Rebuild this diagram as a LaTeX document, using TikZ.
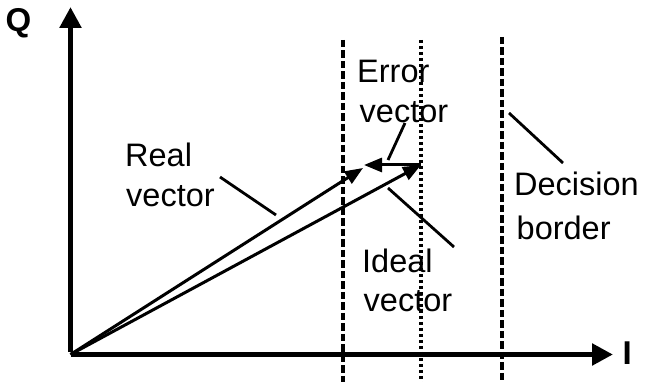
\documentclass[tikz,border=0pt]{standalone}
\usepackage{fontspec}
\setmainfont{Liberation Sans}
\usetikzlibrary{arrows.meta}
\tikzset{
  lbl/.style={anchor=base west, inner sep=0pt, font=\fontsize{32.5}{40}\selectfont},
  axlbl/.style={anchor=base west, inner sep=0pt, font=\fontsize{33}{40}\selectfont\bfseries},
  axisline/.style={line width=5.5pt, -{Triangle[length=21pt,width=21pt]}},
  vec/.style={line width=3pt, -{Triangle[length=18pt,width=14pt]}},
  leader/.style={line width=2.8pt},
  border/.style={line width=3.4pt, dash pattern=on 7.5pt off 3pt},
  ideal/.style={line width=3.4pt, dash pattern=on 3pt off 3pt}
}
\begin{document}
\begin{tikzpicture}[x=1pt,y=-1pt]
\useasboundingbox (0,0) rectangle (646,382);
% coordinates
\coordinate (O) at (70.5,354.5);
\coordinate (Itip) at (613,354.5);
\coordinate (Qtip) at (70.5,7);
\coordinate (realtip) at (363,168);
\coordinate (idealtip) at (421,165);
\coordinate (errtip) at (364,165);
% decision borders and ideal line
\coordinate (b1t) at (343,40); \coordinate (b1b) at (343,382);
\coordinate (b2t) at (421,40); \coordinate (b2b) at (421,382);
\coordinate (b3t) at (502,37); \coordinate (b3b) at (502,382);
\draw[border] (b1t) -- (b1b);
\draw[ideal] (b2t) -- (b2b);
\draw[border] (b3t) -- (b3b);
% axes
\draw[axisline] (O) -- (Itip);
\draw[axisline] ([yshift=2.75pt]O) -- (Qtip);
% vectors
\draw[vec] (O) -- (realtip);
\draw[vec] (O) -- (idealtip);
\draw[vec] (idealtip) -- (errtip);
% labels
\node[axlbl] (Q) at (5.5,31.5) {Q};
\node[axlbl] (I) at (622.5,365) {I};
\node[lbl] (real1) at (125,167) {Real};
\node[lbl] (real2) at (126,207) {vector};
\node[lbl] (err1) at (357,83) {Error};
\node[lbl] (err2) at (359.5,123) {vector};
\node[lbl] (ide1) at (362,273) {Ideal};
\node[lbl] (ide2) at (363.5,312) {vector};
\node[lbl] (dec1) at (514,196) {Decision};
\node[lbl] (dec2) at (516.5,240) {border};
% leader lines
\coordinate (lr1) at (220,177); \coordinate (lr2) at (276,215);
\coordinate (le1) at (405,123); \coordinate (le2) at (388,160);
\coordinate (li1) at (388,188); \coordinate (li2) at (454,247);
\coordinate (ld1) at (509,113); \coordinate (ld2) at (563,163);
\draw[leader] (lr1) -- (lr2);
\draw[leader] (le1) -- (le2);
\draw[leader] (li1) -- (li2);
\draw[leader] (ld1) -- (ld2);
\end{tikzpicture}
\end{document}
